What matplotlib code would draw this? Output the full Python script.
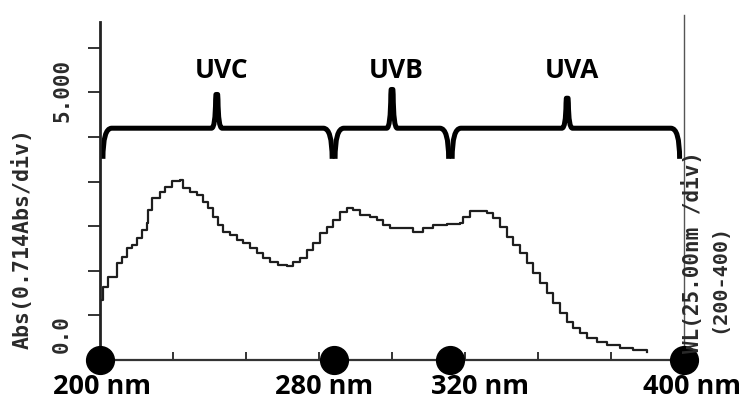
import numpy as np
import matplotlib
matplotlib.use("Agg")
import matplotlib.pyplot as plt
from matplotlib.path import Path
from matplotlib.patches import PathPatch

# ---- data ----
wavelength = [200.0, 201.0, 202.7, 205.8, 207.5, 209.2, 211.0, 212.7, 214.4, 216.1,
              216.5, 217.8, 220.5, 222.3, 224.7, 227.4, 228.4, 230.8, 233.2, 235.3,
              237.0, 238.7, 240.4, 242.1, 244.5, 246.9, 249.0, 251.4, 253.8, 255.8,
              258.2, 261.0, 264.0, 266.1, 268.5, 270.9, 272.9, 275.3, 277.7, 279.8,
              282.2, 284.6, 286.6, 289.0, 292.5, 294.9, 296.9, 299.3, 302.7, 307.2,
              310.6, 314.0, 318.8, 323.3, 324.3, 326.7, 330.1, 332.5, 334.6, 337.0,
              339.4, 341.4, 343.8, 346.2, 348.3, 350.7, 353.1, 355.1, 357.5, 359.9,
              362.0, 364.4, 366.8, 370.2, 373.6, 378.1, 382.5, 387.3]
absorbance = [0.96, 1.17, 1.33, 1.55, 1.65, 1.79, 1.84, 1.95, 2.08, 2.19,
              2.40, 2.59, 2.69, 2.77, 2.87, 2.88, 2.75, 2.69, 2.64, 2.53,
              2.43, 2.29, 2.16, 2.05, 2.00, 1.92, 1.87, 1.79, 1.71, 1.63,
              1.57, 1.52, 1.50, 1.57, 1.63, 1.76, 1.87, 2.03, 2.13, 2.24,
              2.37, 2.43, 2.40, 2.32, 2.29, 2.24, 2.16, 2.11, 2.11, 2.05,
              2.11, 2.16, 2.18, 2.19, 2.29, 2.39, 2.39, 2.35, 2.27, 2.13,
              1.97, 1.84, 1.71, 1.55, 1.39, 1.23, 1.07, 0.91, 0.75, 0.61,
              0.51, 0.43, 0.35, 0.29, 0.24, 0.19, 0.16, 0.13]

band_names = ["UVC", "UVB", "UVA"]
band_edges = [200, 280, 320, 400]
edge_labels = ["200 nm", "280 nm", "320 nm", "400 nm"]
abs_per_div = 0.714
wl_per_div = 25.0
ytick_labels = ["0.0", "5.000"]

# ---- figure ----
fig = plt.figure(figsize=(7.53, 3.99), dpi=100)
ax = fig.add_axes([100/753, 39/399, 584/753, 338/399])
ax.set_xlim(200, 400)
ax.set_ylim(0, 5.41)

ink = "#1e1e1e"
ax.plot(wavelength, absorbance, drawstyle="steps-post", color=ink, lw=1.6)

for s in ["top", "right"]:
    ax.spines[s].set_visible(False)
ax.spines["left"].set_linewidth(2.0)
ax.spines["left"].set_color("#222222")
ax.spines["bottom"].set_linewidth(1.6)
ax.spines["bottom"].set_color("#333333")
ax.axvline(400, ymin=0, ymax=1.02, color="#555555", lw=1.0, clip_on=False)

ax.set_yticks(np.arange(1, 8) * abs_per_div)
ax.set_yticklabels([])
ax.tick_params(axis="y", direction="out", length=9, width=1.4, color="#333333")
ax.set_xticks(np.arange(200 + wl_per_div, 400, wl_per_div))
ax.set_xticklabels([])
ax.tick_params(axis="x", direction="in", length=6, width=1.4, color="#333333")

mono = dict(family="DejaVu Sans Mono", fontweight="bold", color="#2a2a2a", rotation=90)
ax.text(-0.133, 0.36, "Abs(0.714Abs/div)", transform=ax.transAxes, fontsize=15.5,
        ha="center", va="center", **mono)
ax.text(-0.065, 0.02, ytick_labels[0], transform=ax.transAxes, fontsize=15,
        ha="center", va="bottom", **mono)
ax.text(-0.065, 7 * abs_per_div / 5.41 - 0.22, ytick_labels[1], transform=ax.transAxes,
        fontsize=15, ha="center", va="bottom", **mono)
ax.text(1.014, 0.02, "WL(25.00nm /div)", transform=ax.transAxes, fontsize=15,
        ha="center", va="bottom", zorder=6, **mono)
ax.text(1.060, 0.08, "(200-400)", transform=ax.transAxes, fontsize=14.5,
        ha="center", va="bottom", **mono)

# dots and edge labels
ax.plot(band_edges, [0] * len(band_edges), "o", ms=20, color="black", clip_on=False, zorder=5)
label_dx = [2, -10, 30, 8]
for x, lab, dx in zip(band_edges, edge_labels, label_dx):
    ax.annotate(lab, (x, 0), xytext=(dx * 0.72, -19.5), textcoords="offset points",
                ha="center", va="center", fontsize=19.5, fontweight="bold",
                family="Open Sans", color="black", annotation_clip=False)

# brackets
y_base, y_line, y_label = 3.22, 3.71, 4.64
tip_heights = [4.25, 4.33, 4.19]
inset = [(1, 0.5), (0.5, 0.6), (0.6, 1.5)]
for name, x0, x1, yt, (i0, i1) in zip(band_names, band_edges[:-1], band_edges[1:],
                                      tip_heights, inset):
    a, b = x0 + i0, x1 - i1
    xm = (x0 + x1) / 2
    r = 3.0
    verts = [(a, y_base), (a, y_line), (a + r, y_line),
             (xm - 1.8, y_line), (xm - 0.5, y_line), (xm - 0.4, yt - 0.08),
             (xm - 0.3, yt), (xm, yt), (xm + 0.3, yt),
             (xm + 0.4, yt - 0.08), (xm + 0.5, y_line), (xm + 1.8, y_line),
             (b - r, y_line), (b, y_line), (b, y_base)]
    codes = [Path.MOVETO, Path.CURVE3, Path.CURVE3,
             Path.LINETO, Path.CURVE3, Path.CURVE3,
             Path.LINETO, Path.LINETO, Path.LINETO,
             Path.LINETO, Path.CURVE3, Path.CURVE3,
             Path.LINETO, Path.CURVE3, Path.CURVE3]
    ax.add_patch(PathPatch(Path(verts, codes), fill=False, lw=3.6, color="black",
                           capstyle="butt", joinstyle="round", clip_on=False))
    ax.text(xm + 1.5, y_label, name, ha="center", va="center", fontsize=19,
            fontweight="bold", family="Open Sans", color="black", clip_on=False)

fig.savefig("out.png", dpi=100, facecolor="white")
